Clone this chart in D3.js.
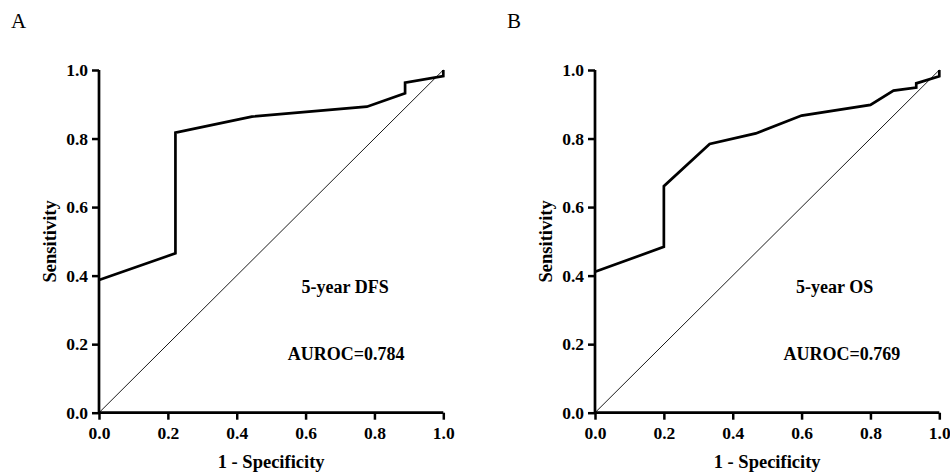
<!DOCTYPE html>
<html>
<head>
<meta charset="utf-8">
<script src="https://cdn.jsdelivr.net/npm/d3@7"></script>
<style>
  body { margin: 0; background: #fff; }
  text { font-family: "Liberation Serif", "Times New Roman", serif; }
</style>
</head>
<body>
<div id="chart"></div>
<script>
// ROC points (1 - specificity, sensitivity)
const dfsFpr = [0, 0.222, 0.222, 0.444, 0.778, 0.889, 0.889, 1.0, 1.0];
const dfsTpr = [0.387, 0.465, 0.817, 0.864, 0.893, 0.932, 0.963, 0.982, 1.0];

const osFpr = [0, 0.2, 0.2, 0.333, 0.467, 0.6, 0.8, 0.867, 0.933, 0.933, 1.0, 1.0];
const osTpr = [0.411, 0.484, 0.661, 0.784, 0.815, 0.867, 0.898, 0.94, 0.949, 0.961, 0.982, 1.0];

const ticks = [0, 0.2, 0.4, 0.6, 0.8, 1.0];

const panels = [
  {letter: "A", fpr: dfsFpr, tpr: dfsTpr, name: "5-year DFS", auroc: "AUROC=0.784", left: 99, nameX: 0.715, aucX: 0.718},
  {letter: "B", fpr: osFpr, tpr: osTpr, name: "5-year OS", auroc: "AUROC=0.769", left: 595, nameX: 0.696, aucX: 0.717}
];

const W = 950, H = 473;
const plotTop = 70, plotBottom = 412.7, plotW = 344.3;

const svg = d3.select("#chart")
  .append("svg")
  .attr("width", W)
  .attr("height", H);

panels.forEach(function (p) {
  const x = d3.scaleLinear().domain([0, 1]).range([p.left, p.left + plotW]);
  const y = d3.scaleLinear().domain([0, 1]).range([plotBottom, plotTop]);

  // panel letter
  svg.append("text")
    .attr("x", p.left - 88)
    .attr("y", 28)
    .style("font-size", "21px")
    .text(p.letter);

  // reference diagonal
  svg.append("line")
    .attr("x1", x(0)).attr("y1", y(0))
    .attr("x2", x(1)).attr("y2", y(1))
    .attr("stroke", "#000")
    .attr("stroke-width", 0.9);

  // ROC curve
  const pts = p.fpr.map((f, i) => [f, p.tpr[i]]);
  svg.append("path")
    .datum(pts)
    .attr("fill", "none")
    .attr("stroke", "#000")
    .attr("stroke-width", 2.7)
    .attr("stroke-linejoin", "miter")
    .attr("d", d3.line().x(d => x(d[0])).y(d => y(d[1])));

  // axes
  const fmt = d3.format(".1f");
  const xAxis = svg.append("g")
    .attr("transform", `translate(0,${plotBottom})`)
    .call(d3.axisBottom(x).tickValues(ticks).tickFormat(fmt).tickSize(7).tickPadding(7));
  const yAxis = svg.append("g")
    .attr("transform", `translate(${p.left},0)`)
    .call(d3.axisLeft(y).tickValues(ticks).tickFormat(fmt).tickSize(7).tickPadding(4));

  [xAxis, yAxis].forEach(function (g) {
    g.attr("font-family", '"Liberation Serif", serif');
    g.select(".domain").attr("stroke-width", 2.7).attr("stroke", "#000");
    g.selectAll(".tick line").attr("stroke-width", 2.5).attr("stroke", "#000");
    g.selectAll(".tick text")
      .attr("fill", "#000")
      .style("font-weight", "bold")
      .style("font-size", "17.5px");
  });
  // remove domain end caps (outer ticks)
  xAxis.select(".domain").attr("d", `M${x(0)},0H${x(1)}`);
  yAxis.select(".domain").attr("d", `M0,${y(0)}V${y(1)}`);

  // axis titles
  svg.append("text")
    .attr("x", x(0.5))
    .attr("y", 468)
    .attr("text-anchor", "middle")
    .style("font-weight", "bold")
    .style("font-size", "18.5px")
    .text("1 - Specificity");

  svg.append("text")
    .attr("transform", `translate(${p.left - 43},${(plotTop + plotBottom) / 2}) rotate(-90)`)
    .attr("text-anchor", "middle")
    .style("font-weight", "bold")
    .style("font-size", "18.5px")
    .text("Sensitivity");

  // annotations
  svg.append("text")
    .attr("x", x(p.nameX))
    .attr("y", 293)
    .attr("text-anchor", "middle")
    .style("font-weight", "bold")
    .style("font-size", "18px")
    .text(p.name);

  svg.append("text")
    .attr("x", x(p.aucX))
    .attr("y", 360)
    .attr("text-anchor", "middle")
    .style("font-weight", "bold")
    .style("font-size", "18px")
    .text(p.auroc);
});
</script>
</body>
</html>
